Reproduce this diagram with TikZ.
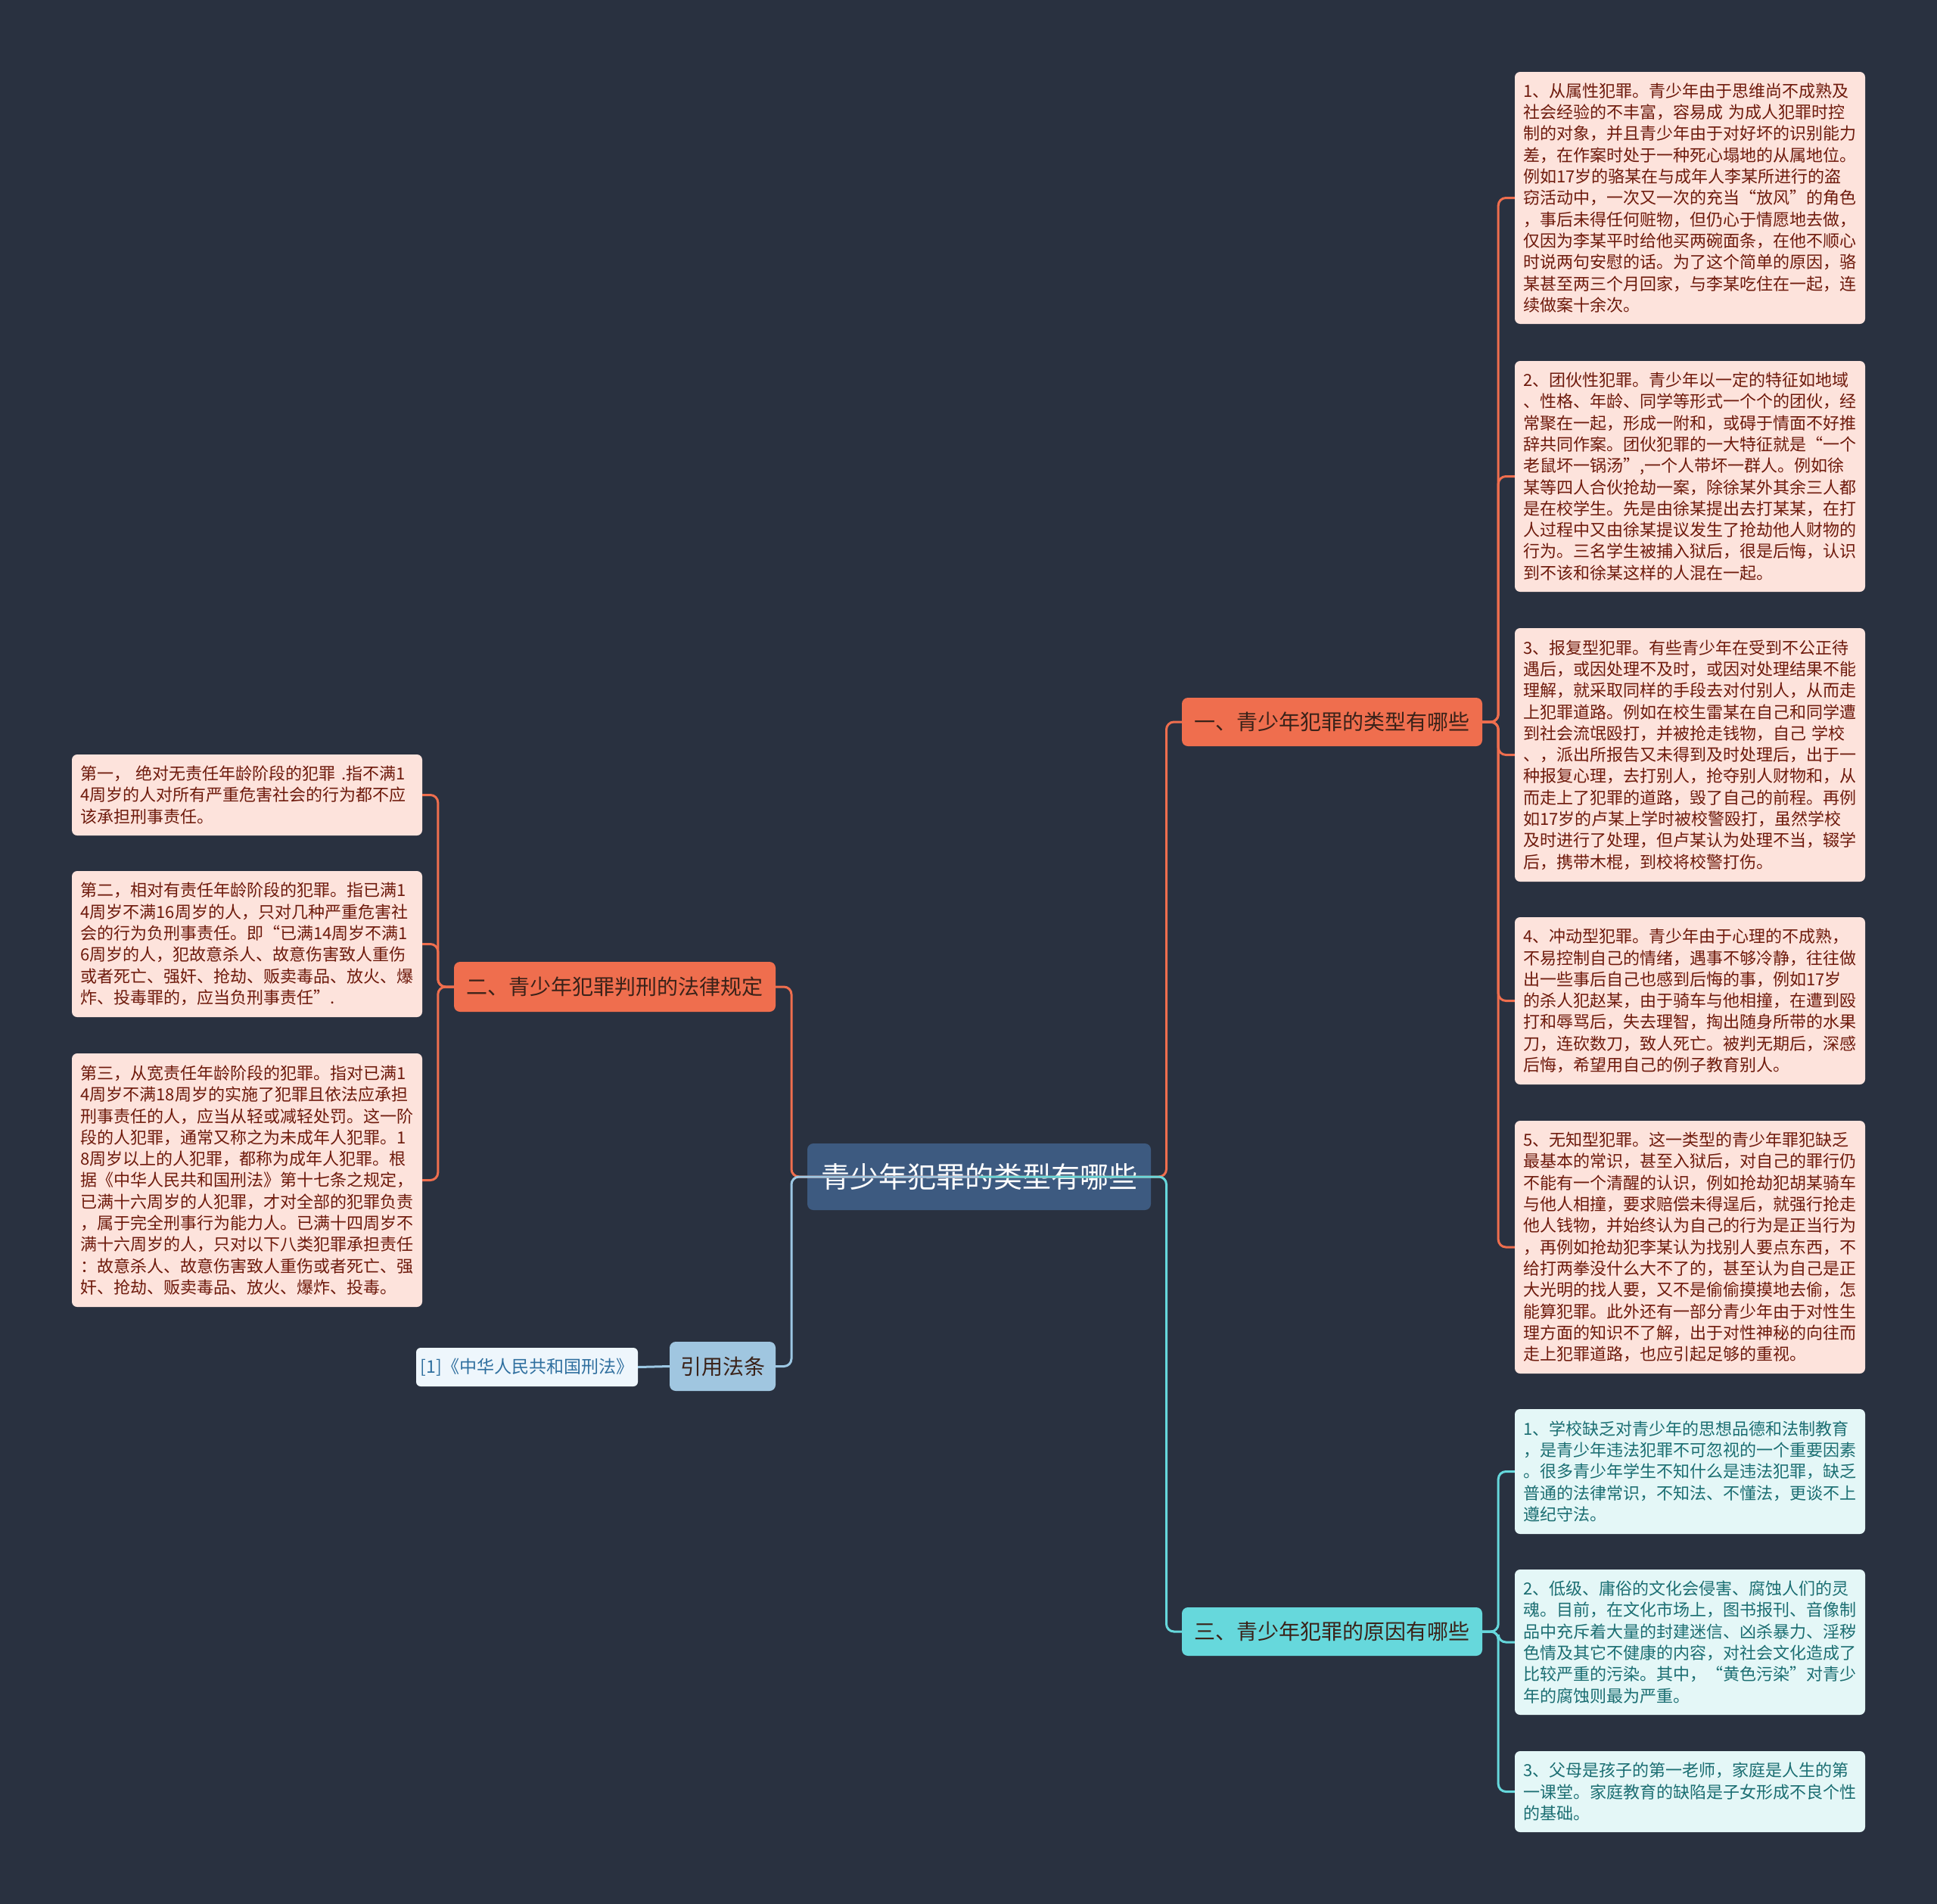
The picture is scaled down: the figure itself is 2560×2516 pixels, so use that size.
\documentclass[tikz,border=0pt]{standalone}
\usepackage{fontspec}
\setmainfont{Noto Sans CJK SC}
\definecolor{bgc}{HTML}{293140}
\definecolor{orangec}{HTML}{EF6E4E}
\definecolor{pinkfill}{HTML}{FDE3DC}
\definecolor{pinktext}{HTML}{6E1A0C}
\definecolor{cyanc}{HTML}{66D8DC}
\definecolor{cyanfill}{HTML}{E4F7F7}
\definecolor{cyantext}{HTML}{1B6E72}
\definecolor{rootfill}{HTML}{3D5A80}
\definecolor{citefill}{HTML}{A0C6E0}
\definecolor{citeline}{HTML}{9CC7E3}
\definecolor{reffill}{HTML}{EEF6FC}
\definecolor{reftext}{HTML}{2F6F9F}
\definecolor{darktext}{HTML}{3A2219}
\begin{document}
\begin{tikzpicture}[x=1pt,y=-1pt,
  leafbase/.style={rounded corners=7pt, align=left, text width=440pt, inner xsep=11.5pt, inner ysep=0pt,
    font=\fontsize{22}{28.3}\selectfont},
  pinkleaf/.style={leafbase, fill=pinkfill, text=pinktext},
  cyanleaf/.style={leafbase, fill=cyanfill, text=cyantext},
  branchbox/.style={rounded corners=8pt, inner sep=0pt, font=\fontsize{28}{32}\selectfont, align=center},
  oline/.style={draw=orangec, line width=3pt, rounded corners=10pt},
  cline/.style={draw=cyanc, line width=3pt, rounded corners=10pt},
  bline/.style={draw=citeline, line width=3pt, rounded corners=10pt}
]
\useasboundingbox (0,0) rectangle (2560,2516);
\fill[bgc] (0,0) rectangle (2560,2516);

% root
\node[branchbox, fill=rootfill, text=white, minimum width=454pt, minimum height=88pt,
  font=\fontsize{38}{42}\selectfont] (root) at (1294,1555) {青少年犯罪的类型有哪些};

% branches
\node[branchbox, fill=orangec, text=darktext, minimum width=397pt, minimum height=64pt] (b1) at (1760.5,954) {一、青少年犯罪的类型有哪些};
\node[branchbox, fill=orangec, text=darktext, minimum width=425pt, minimum height=66pt] (b2) at (812.5,1304) {二、青少年犯罪判刑的法律规定};
\node[branchbox, fill=cyanc, text=darktext, minimum width=397pt, minimum height=64pt] (b3) at (1760.5,2156) {三、青少年犯罪的原因有哪些};
\node[branchbox, fill=citefill, text=darktext, minimum width=140pt, minimum height=65pt] (cite) at (955,1805.5) {引用法条};
\node[branchbox, fill=reffill, text=reftext, minimum width=293pt, minimum height=51pt, rounded corners=6pt,
  font=\fontsize{23}{27}\selectfont] (ref) at (696.5,1806.5) {[1]《中华人民共和国刑法》};

% right leaves of b1
\node[pinkleaf, minimum height=333pt] (r1) at (2233.5,261.5) {1、从属性犯罪。青少年由于思维尚不成熟及\\社会经验的不丰富，容易成~为成人犯罪时控\\制的对象，并且青少年由于对好坏的识别能力\\差，在作案时处于一种死心塌地的从属地位。\\例如17岁的骆某在与成年人李某所进行的盗\\窃活动中，一次又一次的充当“放风”的角色\\，事后未得任何赃物，但仍心于情愿地去做，\\仅因为李某平时给他买两碗面条，在他不顺心\\时说两句安慰的话。为了这个简单的原因，骆\\某甚至两三个月回家，与李某吃住在一起，连\\续做案十余次。};
\node[pinkleaf, minimum height=305pt] (r2) at (2233.5,629.5) {2、团伙性犯罪。青少年以一定的特征如地域\\、性格、年龄、同学等形式一个个的团伙，经\\常聚在一起，形成一附和，或碍于情面不好推\\辞共同作案。团伙犯罪的一大特征就是“一个\\老鼠坏一锅汤”,一个人带坏一群人。例如徐\\某等四人合伙抢劫一案，除徐某外其余三人都\\是在校学生。先是由徐某提出去打某某，在打\\人过程中又由徐某提议发生了抢劫他人财物的\\行为。三名学生被捕入狱后，很是后悔，认识\\到不该和徐某这样的人混在一起。};
\node[pinkleaf, minimum height=335pt] (r3) at (2233.5,997.5) {3、报复型犯罪。有些青少年在受到不公正待\\遇后，或因处理不及时，或因对处理结果不能\\理解，就采取同样的手段去对付别人，从而走\\上犯罪道路。例如在校生雷某在自己和同学遭\\到社会流氓殴打，并被抢走钱物，自己~学校\\、，派出所报告又未得到及时处理后，出于一\\种报复心理，去打别人，抢夺别人财物和，从\\而走上了犯罪的道路，毁了自己的前程。再例\\如17岁的卢某上学时被校警殴打，虽然学校\\及时进行了处理，但卢某认为处理不当，辍学\\后，携带木棍，到校将校警打伤。};
\node[pinkleaf, minimum height=221pt] (r4) at (2233.5,1322.5) {4、冲动型犯罪。青少年由于心理的不成熟，\\不易控制自己的情绪，遇事不够冷静，往往做\\出一些事后自己也感到后悔的事，例如17岁\\的杀人犯赵某，由于骑车与他相撞，在遭到殴\\打和辱骂后，失去理智，掏出随身所带的水果\\刀，连砍数刀，致人死亡。被判无期后，深感\\后悔，希望用自己的例子教育别人。};
\node[pinkleaf, minimum height=334pt] (r5) at (2233.5,1648) {5、无知型犯罪。这一类型的青少年罪犯缺乏\\最基本的常识，甚至入狱后，对自己的罪行仍\\不能有一个清醒的认识，例如抢劫犯胡某骑车\\与他人相撞，要求赔偿未得逞后，就强行抢走\\他人钱物，并始终认为自己的行为是正当行为\\，再例如抢劫犯李某认为找别人要点东西，不\\给打两拳没什么大不了的，甚至认为自己是正\\大光明的找人要，又不是偷偷摸摸地去偷，怎\\能算犯罪。此外还有一部分青少年由于对性生\\理方面的知识不了解，出于对性神秘的向往而\\走上犯罪道路，也应引起足够的重视。};

% right leaves of b3
\node[cyanleaf, minimum height=165pt] (s1) at (2233.5,1944.5) {1、学校缺乏对青少年的思想品德和法制教育\\，是青少年违法犯罪不可忽视的一个重要因素\\。很多青少年学生不知什么是违法犯罪，缺乏\\普通的法律常识，不知法、不懂法，更谈不上\\遵纪守法。};
\node[cyanleaf, minimum height=192pt] (s2) at (2233.5,2170) {2、低级、庸俗的文化会侵害、腐蚀人们的灵\\魂。目前，在文化市场上，图书报刊、音像制\\品中充斥着大量的封建迷信、凶杀暴力、淫秽\\色情及其它不健康的内容，对社会文化造成了\\比较严重的污染。其中，“黄色污染”对青少\\年的腐蚀则最为严重。};
\node[cyanleaf, minimum height=107pt] (s3) at (2233.5,2367.5) {3、父母是孩子的第一老师，家庭是人生的第\\一课堂。家庭教育的缺陷是子女形成不良个性\\的基础。};

% left leaves of b2
\node[pinkleaf, minimum height=107pt] (l1) at (326.5,1050.5) {第一，~绝对无责任年龄阶段的犯罪~.指不满1\\4周岁的人对所有严重危害社会的行为都不应\\该承担刑事责任。};
\node[pinkleaf, minimum height=193pt] (l2) at (326.5,1247.5) {第二，相对有责任年龄阶段的犯罪。指已满1\\4周岁不满16周岁的人，只对几种严重危害社\\会的行为负刑事责任。即“已满14周岁不满1\\6周岁的人，犯故意杀人、故意伤害致人重伤\\或者死亡、强奸、抢劫、贩卖毒品、放火、爆\\炸、投毒罪的，应当负刑事责任”.};
\node[pinkleaf, minimum height=335pt] (l3) at (326.5,1559.5) {第三，从宽责任年龄阶段的犯罪。指对已满1\\4周岁不满18周岁的实施了犯罪且依法应承担\\刑事责任的人，应当从轻或减轻处罚。这一阶\\段的人犯罪，通常又称之为未成年人犯罪。1\\8周岁以上的人犯罪，都称为成年人犯罪。根\\据《中华人民共和国刑法》第十七条之规定，\\已满十六周岁的人犯罪，才对全部的犯罪负责\\，属于完全刑事行为能力人。已满十四周岁不\\满十六周岁的人，只对以下八类犯罪承担责任\\：故意杀人、故意伤害致人重伤或者死亡、强\\奸、抢劫、贩卖毒品、放火、爆炸、投毒。};

% connectors: branch to leaves
\foreach \t in {r1,r2,r3,r4,r5}
  \draw[oline] (b1.east) -- ++(21,0) |- (\t.west);
\foreach \t in {s1,s2,s3}
  \draw[cline] (b3.east) -- ++(21,0) |- (\t.west);
\foreach \t in {l1,l2,l3}
  \draw[oline] (b2.west) -- ++(-21,0) |- (\t.east);
\draw[bline] (cite.west) -- (ref.east);

% connectors: root to branches (drawn over the root)
\draw[oline] (root.center) -- ++(247.5,0) |- (b1.west);
\draw[oline] (root.center) -- ++(-248,0) |- (b2.east);
\draw[bline] (root.center) -- ++(-248,0) |- (cite.east);
\draw[cline] (root.center) -- ++(247.5,0) |- (b3.west);
\end{tikzpicture}
\end{document}
